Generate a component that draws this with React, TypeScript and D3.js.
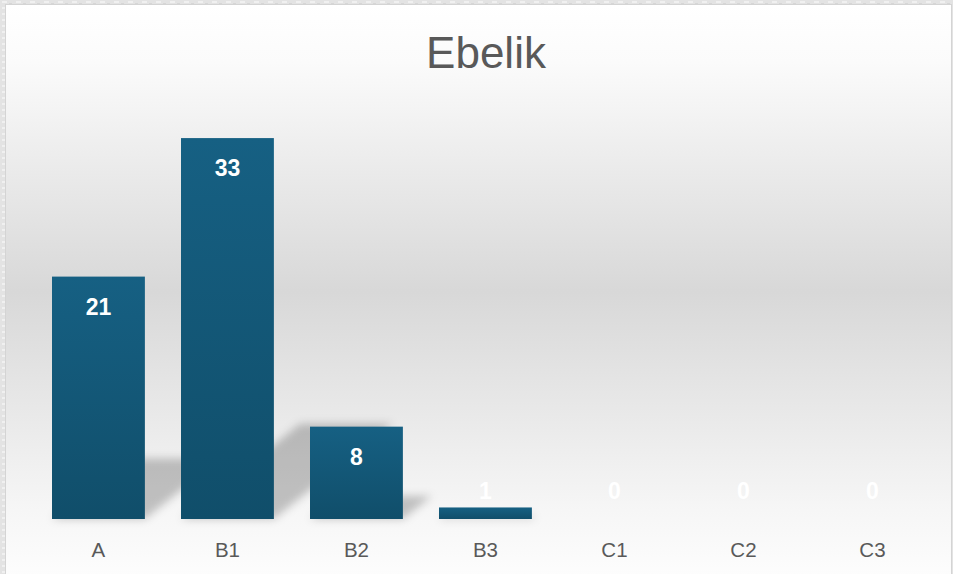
import React from "react";
import * as d3 from "d3";

const categories = ["A", "B1", "B2", "B3", "C1", "C2", "C3"];
const values = [21, 33, 8, 1, 0, 0, 0];
const title = "Ebelik";

const W = 953;
const H = 574;
const FONT = "'Liberation Sans', Arial, sans-serif";

export default function App() {
  const x = d3
    .scaleBand<string>()
    .domain(categories)
    .range([33.94, 936.94])
    .paddingInner(0.28)
    .paddingOuter(0.14);
  const y = d3.scaleLinear().domain([0, 35]).range([519, 115]);
  const base = y(0);

  return (
    <svg
      width={W}
      height={H}
      viewBox={`0 0 ${W} ${H}`}
      style={{ position: "fixed", left: 0, top: 0, display: "block" }}
    >
      <defs>
        <linearGradient id="bg" x1="0" y1="0" x2="0" y2="1">
          <stop offset="0%" stopColor="#ffffff" />
          <stop offset="10%" stopColor="#fbfbfb" />
          <stop offset="50%" stopColor="#d8d8d8" />
          <stop offset="88%" stopColor="#f6f6f6" />
          <stop offset="100%" stopColor="#fdfdfd" />
        </linearGradient>
        <linearGradient id="bar" x1="0" y1="0" x2="0" y2="1">
          <stop offset="0%" stopColor="#166083" />
          <stop offset="100%" stopColor="#104e6a" />
        </linearGradient>
        <filter id="blur" x="-50%" y="-50%" width="200%" height="200%">
          <feGaussianBlur stdDeviation="4" />
        </filter>
        <pattern id="tex" width="14" height="6" patternUnits="userSpaceOnUse">
          <rect width="14" height="6" fill="#e3e3e3" />
          <rect x="2" y="1" width="5" height="2" fill="#f0f0f0" />
          <rect x="9" y="3" width="3" height="2" fill="#d6d6d6" />
        </pattern>
      </defs>
      <rect x={0} y={0} width={W} height={H} fill="url(#tex)" />
      <rect x={5.5} y={4.5} width={946} height={H} fill="url(#bg)" stroke="#d4d4d4" strokeWidth={1} />

      <text
        x={486}
        y={68}
        textAnchor="middle"
        fontFamily={FONT}
        fontSize={44}
        fill="#595959"
      >
        {title}
      </text>

      <g filter="url(#blur)">
        {categories.map((c, i) => {
          const h = base - y(values[i]);
          if (h <= 0) return null;
          const x0 = x(c)!;
          const x1 = x0 + x.bandwidth();
          const hs = h * 0.25;
          const dx = hs * 1.25;
          const pts = [
            [x0, base],
            [x1, base],
            [x1 + dx, base - hs],
            [x0 + dx, base - hs],
          ]
            .map((p) => p.join(","))
            .join(" ");
          return <polygon key={c} points={pts} fill="#000" opacity={0.22} />;
        })}
      </g>

      {categories.map((c, i) => (
        <rect
          key={c}
          x={x(c)}
          y={y(values[i])}
          width={x.bandwidth()}
          height={base - y(values[i])}
          fill="url(#bar)"
        />
      ))}

      {categories.map((c, i) => {
        const cy = Math.min(y(values[i]) + 30, base - 28);
        return (
          <text
            key={c}
            x={x(c)! + x.bandwidth() / 2}
            y={cy}
            dy="0.36em"
            textAnchor="middle"
            fontFamily={FONT}
            fontWeight="bold"
            fontSize={23}
            fill="#ffffff"
          >
            {values[i]}
          </text>
        );
      })}

      {categories.map((c) => (
        <text
          key={c}
          x={x(c)! + x.bandwidth() / 2}
          y={557}
          textAnchor="middle"
          fontFamily={FONT}
          fontSize={20.5}
          fill="#595959"
        >
          {c}
        </text>
      ))}
    </svg>
  );
}
